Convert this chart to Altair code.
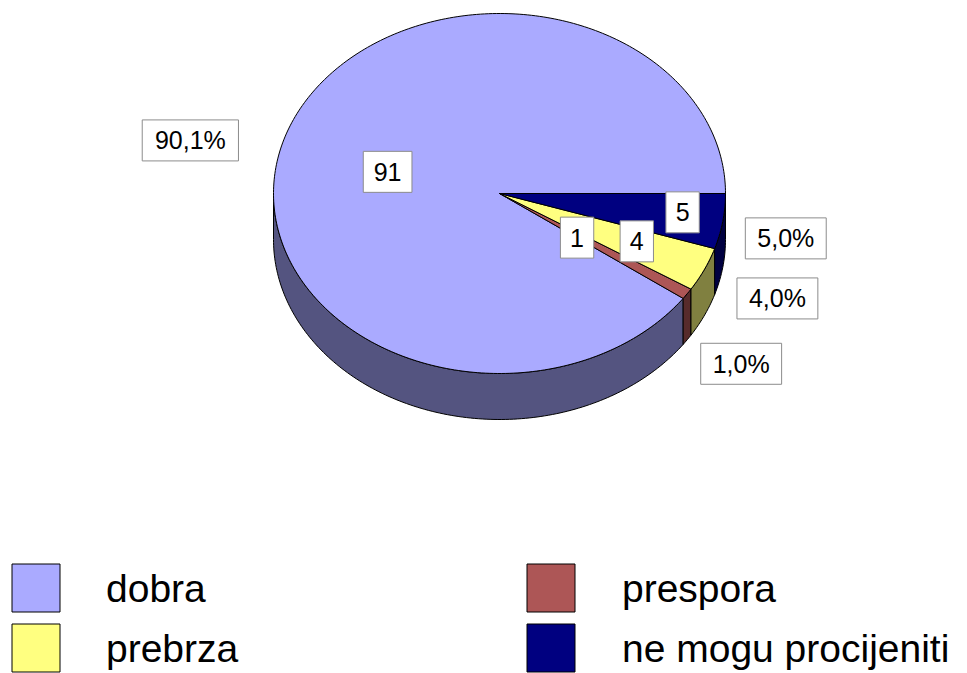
import math
import altair as alt
import pandas as pd

# ---------------- data ----------------
categories = ["dobra", "prespora", "prebrza", "ne mogu procijeniti"]
values = [91, 1, 4, 5]

# ---------------- style ----------------
top_colors = ["#AAAAFF", "#AD5656", "#FFFF80", "#000080"]
side_colors = ["#545480", "#572B2B", "#808040", "#000040"]
FONT = "Liberation Sans"

# ---------------- layout (pixels) ----------------
CX, CY, RX, RY, DEPTH = 499.5, 193.5, 226, 180, 46
inner_f = [0.52, 0.44, 0.67, 0.82]           # radial fraction for value labels
inner_nudge = [(0, 7), (-5, 0), (0, -3), (0, -4)]
outer_off = [(-94, 2), (54, 70), (73, 29), (63, 17)]  # percent label offset from rim
LBL_FS, LBL_H = 25, 41
LEG_FS = 39

total = sum(values)
pct_labels = [f"{v / total * 100:.1f}".replace(".", ",") + "%" for v in values]
val_labels = [str(v) for v in values]

# slice bounds in screen degrees (y down), slices run counter-clockwise from 3 o'clock
bounds = []
cum = 0
for v in values:
    hi = 360 - cum * 360 / total
    cum += v
    lo = 360 - cum * 360 / total
    bounds.append((lo, hi))


def pt(deg, dy=0.0):
    r = math.radians(deg)
    return CX + RX * math.cos(r), CY + RY * math.sin(r) + dy


def arc(a, b, dy=0.0):
    n = max(2, int(abs(b - a)) + 2)
    return [pt(a + (b - a) * k / (n - 1), dy) for k in range(n)]


top_rows, side_rows = [], []
for cat, (lo, hi) in zip(categories, bounds):
    pts = [(CX, CY)] + arc(lo, hi) + [(CX, CY)]
    for j, (x, y) in enumerate(pts):
        top_rows.append({"cat": cat, "ord": j, "x": x, "y": y})
    a, b = max(lo, 0), min(hi, 180)
    if b > a:
        ta = arc(a, b)
        ba = arc(b, a, DEPTH)
        pts = ta + ba + [ta[0]]
        for j, (x, y) in enumerate(pts):
            side_rows.append({"cat": cat, "ord": j, "x": x, "y": y})

df_top = pd.DataFrame(top_rows)
df_side = pd.DataFrame(side_rows)

CW = {"0": .556, "1": .556, "2": .556, "3": .556, "4": .556, "5": .556,
      "6": .556, "7": .556, "8": .556, "9": .556, ",": .278, "%": .889}

lab_rows = []
for i, cat in enumerate(categories):
    lo, hi = bounds[i]
    mid = (lo + hi) / 2
    rx, ry = pt(mid)
    vx = CX + inner_f[i] * (rx - CX) + inner_nudge[i][0]
    vy = CY + inner_f[i] * (ry - CY) + inner_nudge[i][1]
    px = rx + outer_off[i][0]
    py = ry + outer_off[i][1]
    for (x, y, t) in [(vx, vy, val_labels[i]), (px, py, pct_labels[i])]:
        w = sum(CW.get(c, .556) for c in t) * 27.6 + 18
        lab_rows.append({"t": t, "x": x, "y": y, "x1": x - w / 2, "x2": x + w / 2,
                         "y1": y - LBL_H / 2, "y2": y + LBL_H / 2, "ty": y + 0.716 * LBL_FS / 2})
df_lab = pd.DataFrame(lab_rows)

leg_rows = []
for i, cat in enumerate(categories):
    col, row = i % 2, i // 2
    sx = 12 + col * 515
    sy = 564 + row * 60
    leg_rows.append({"cat": cat, "sx1": sx, "sx2": sx + 48, "sy1": sy, "sy2": sy + 48,
                     "tx": 106 + col * 516, "ty": sy + 38})
df_leg = pd.DataFrame(leg_rows)

W, H = 951, 665
xs = alt.Scale(domain=[8, 8 + W], nice=False, zero=False)
ys = alt.Scale(domain=[8, 8 + H], nice=False, zero=False, reverse=True)
X = lambda f: alt.X(f, scale=xs, axis=None)
Y = lambda f: alt.Y(f, scale=ys, axis=None)

side = alt.Chart(df_side).mark_line(stroke="black", strokeWidth=1, strokeJoin="round").encode(
    x=X("x:Q"), y=Y("y:Q"), order="ord:Q", detail="cat:N",
    fill=alt.Fill("cat:N", scale=alt.Scale(domain=categories, range=side_colors), legend=None))

top = alt.Chart(df_top).mark_line(stroke="black", strokeWidth=1, strokeJoin="round").encode(
    x=X("x:Q"), y=Y("y:Q"), order="ord:Q", detail="cat:N",
    fill=alt.Fill("cat:N", scale=alt.Scale(domain=categories, range=top_colors), legend=None))

boxes = alt.Chart(df_lab).mark_rect(fill="white", stroke="#8C8C8C", strokeWidth=1).encode(
    x=X("x1:Q"), x2="x2:Q", y=Y("y1:Q"), y2="y2:Q")
texts = alt.Chart(df_lab).mark_text(font=FONT, fontSize=LBL_FS, color="black",
                                    align="center", baseline="alphabetic").encode(
    x=X("x:Q"), y=Y("ty:Q"), text="t:N")

leg_sym = alt.Chart(df_leg).mark_rect(stroke="black", strokeWidth=1).encode(
    x=X("sx1:Q"), x2="sx2:Q", y=Y("sy1:Q"), y2="sy2:Q",
    fill=alt.Fill("cat:N", scale=alt.Scale(domain=categories, range=top_colors), legend=None))
leg_txt = alt.Chart(df_leg).mark_text(font=FONT, fontSize=LEG_FS, color="black",
                                      align="left", baseline="alphabetic").encode(
    x=X("tx:Q"), y=Y("ty:Q"), text="cat:N")

chart = alt.layer(side, top, boxes, texts, leg_sym, leg_txt).resolve_scale(
    fill="independent").properties(
    width=W, height=H, padding=0, autosize=alt.AutoSizeParams(type="none")
).configure_view(stroke=None)

chart.save("out.html", embed_options={"renderer": "svg", "actions": False})
